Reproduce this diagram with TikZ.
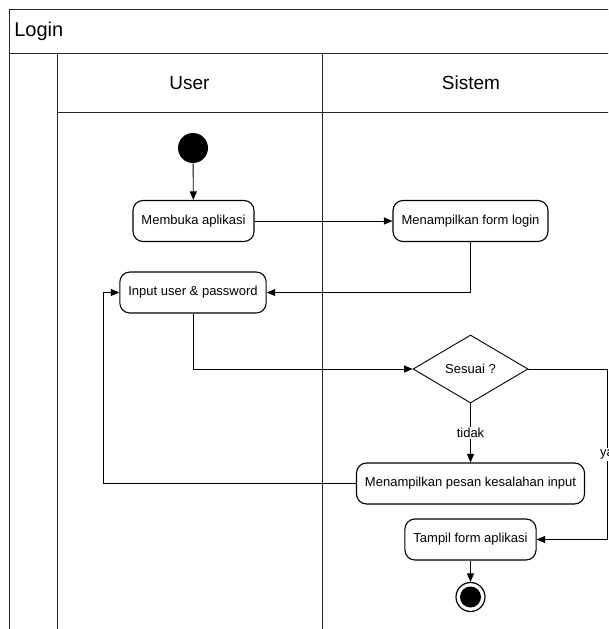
\documentclass[tikz,border=0pt]{standalone}
\usepackage{fontspec}
\setmainfont{Liberation Sans}
\usetikzlibrary{arrows.meta,shapes.geometric}

\tikzset{
  lane/.style={-, line width=0.9pt, black!85},
  head/.style={font=\fontsize{19}{22}\selectfont},
  act/.style={draw, fill=white, rounded corners=10pt, line width=1.1pt,
    minimum height=41pt, inner xsep=8.5pt, font=\fontsize{13}{15}\selectfont},
  decision/.style={diamond, draw, fill=white, aspect=1.7, minimum width=115pt,
    minimum height=68pt, inner sep=0pt, line width=0.9pt,
    font=\fontsize{13}{15}\selectfont},
  startnode/.style={circle, fill, minimum size=30pt, inner sep=0pt},
  endnode/.style={circle, draw, fill=white, line width=1.2pt, minimum size=29pt,
    inner sep=0pt,
    path picture={\fill[black] (path picture bounding box.center) circle (10.5pt);}},
  lbl/.style={fill=white, inner sep=1.5pt, font=\fontsize{13}{15}\selectfont}
}

\begin{document}
\begin{tikzpicture}[x=1pt, y=-1pt, ->, >={Triangle[length=8.5pt,width=7pt]},
    line width=0.9pt]
  \useasboundingbox (0,0) rectangle (608,629);
  \clip (0,0) rectangle (608,629);

  % pool and swimlanes
  \draw[lane] (9.5,640) -- (9.5,9.5) -- (620,9.5);
  \draw[lane] (9.5,53.5) -- (620,53.5);
  \draw[lane] (57,53.5) -- (57,640);
  \draw[lane] (322,53.5) -- (322,640);
  \draw[lane] (57,112.5) -- (620,112.5);
  \node[anchor=west, font=\fontsize{20}{24}\selectfont] (title) at (10.5,31.5) {Login};
  \node[head] (user) at (189.5,83) {User};
  \node[head] (sistem) at (471,83) {Sistem};

  % activities
  \node[startnode] (0) at (193,148) {};
  \node[act] (1) at (193.5,221) {Membuka aplikasi};
  \node[act] (2) at (470.5,221) {Menampilkan form login};
  \node[act] (3) at (193,292.5) {Input user \& password};
  \node[decision] (4) at (470.5,369) {Sesuai ?};
  \node[act] (5) at (470.5,483.5) {Menampilkan pesan kesalahan input};
  \node[act] (6) at (470.5,539.5) {Tampil form aplikasi};
  \node[endnode] (7) at (470.5,597) {};
  \coordinate (8) at (607,369);
  \coordinate (9) at (103,483.5);

  \draw (0) -- (1);
  \draw (1) -- (2);
  \draw (2) |- (3);
  \draw (3) |- (4);
  \draw (4) -- node[lbl] {tidak} (5);
  \draw (4) -- (8) |- node[lbl, pos=0.25] {ya} (6);
  \draw (5) -- (9) |- (3);
  \draw (6) -- (7);
\end{tikzpicture}
\end{document}
